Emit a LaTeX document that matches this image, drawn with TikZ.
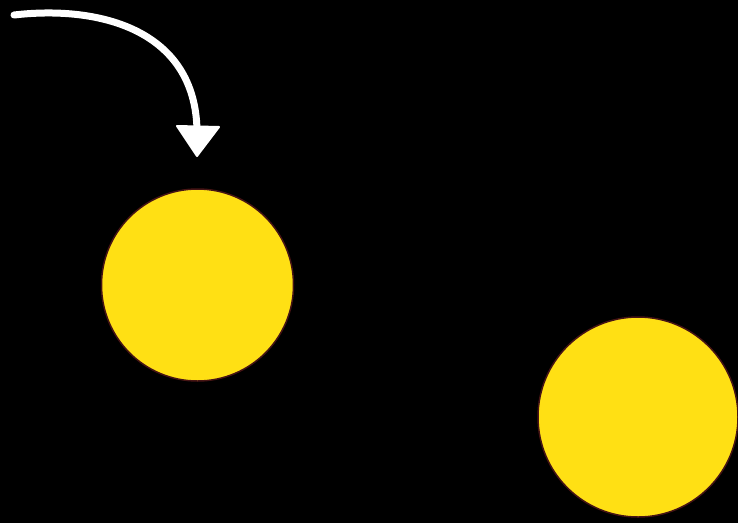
\documentclass[tikz,border=0pt]{standalone}
\definecolor{sunyellow}{RGB}{255,224,20}
\definecolor{rimbrown}{RGB}{70,20,20}
\tikzset{
  ball/.style={circle, fill=sunyellow, draw=rimbrown, line width=1.5pt, inner sep=0pt},
  chalk/.style={draw=white, line width=7pt, line cap=round},
  chalkhead/.style={fill=white, draw=white, line width=2pt, line join=round}
}
\begin{document}
\begin{tikzpicture}[x=1pt,y=-1pt]
\fill[black] (0,0) rectangle (738,523);
\useasboundingbox (0,0) rectangle (738,523);
\node[ball, minimum size=192pt] (b1) at (197.5,285) {};
\node[ball, minimum size=200pt] (b2) at (638,417) {};
\coordinate (s) at (14,15);
\coordinate (e) at (197,130);
\coordinate (t) at (197,156);
\draw[chalk] (s) .. controls (100,5) and (195,30) .. (e);
\filldraw[chalkhead] (177,126) -- (219,127) -- (t) -- cycle;
\end{tikzpicture}
\end{document}
